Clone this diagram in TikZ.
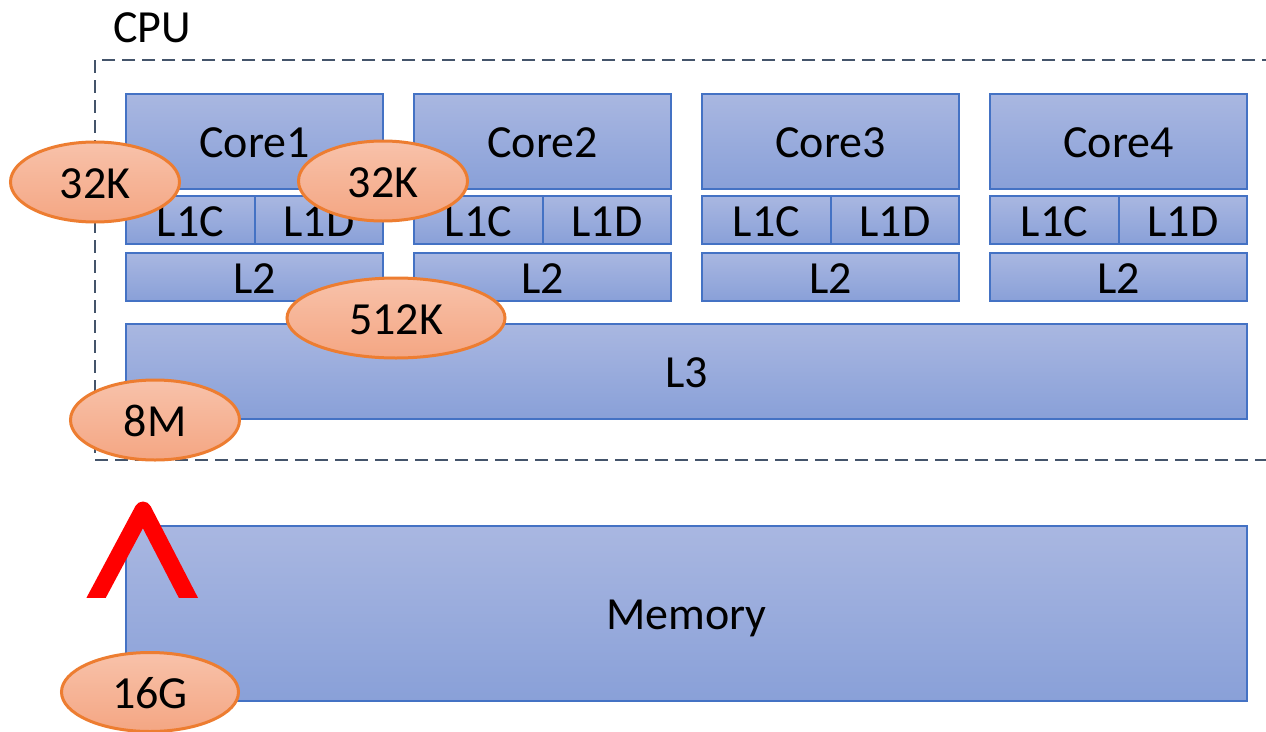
\documentclass[tikz,border=0pt]{standalone}
\usepackage{fontspec}
\setmainfont{Carlito}
\usetikzlibrary{shapes.geometric}
\definecolor{boxtop}{HTML}{A9B7E1}
\definecolor{boxbot}{HTML}{89A0D8}
\definecolor{boxline}{HTML}{4472C4}
\definecolor{elltop}{HTML}{F8C2AA}
\definecolor{ellbot}{HTML}{F4A683}
\definecolor{ellline}{HTML}{ED7D31}
\definecolor{dashcol}{HTML}{44546A}
\tikzset{
  lbl/.style={font=\fontsize{46}{52}\selectfont, text height=32pt, text depth=0pt, inner sep=0pt},
  blk/.style={lbl, draw=boxline, line width=2.5pt, top color=boxtop, bottom color=boxbot, shading=axis},
  sz/.style={lbl, ellipse, draw=ellline, line width=3pt, top color=elltop, bottom color=ellbot, minimum width=169pt, minimum height=80pt},
  cpubox/.style={draw=dashcol, line width=2.5pt, dash pattern=on 13pt off 7pt, inner sep=0pt},
}
\begin{document}
\begin{tikzpicture}[x=1pt,y=-1pt]
\useasboundingbox (0,0) rectangle (1266,731);
\fill[white] (0,0) rectangle (1266,731);
% CPU container
\node[cpubox, minimum width=1180pt, minimum height=400pt] (cpu) at (685,260) {};
\node[lbl, anchor=west] (cputxt) at (113,26) {CPU};
% cores
\foreach \i/\x in {1/126,2/414,3/702,4/990}{
  \node[blk, minimum width=257pt, minimum height=95pt] (core\i) at (\x+128.5,141.5) {Core\i};
  \node[blk, minimum width=129pt, minimum height=48pt] (l1c\i) at (\x+64.5,220) {L1C};
  \node[blk, minimum width=128pt, minimum height=48pt] (l1d\i) at (\x+193,220) {L1D};
  \node[blk, minimum width=257pt, minimum height=48pt] (l2\i) at (\x+128.5,277) {L2};
}
\node[blk, minimum width=1121pt, minimum height=95pt] (l3) at (686.5,371.5) {L3};
\node[blk, minimum width=1121pt, minimum height=175pt] (mem) at (686.5,613.5) {Memory};
% caret
\begin{scope}
\clip (0,480) rectangle (300,597);
\draw[red, line width=17pt, line join=round] (89.6,610) -- (143,510) -- (194.7,610);
\end{scope}
% size tags
\node[sz] (e1) at (95,182) {32K};
\node[sz] (e2) at (383,181) {32K};
\node[sz, minimum width=218pt] (e3) at (396,318) {512K};
\node[sz] (e4) at (155,420) {8M};
\node[sz, minimum width=177pt, minimum height=79pt] (e5) at (150,692) {16G};
\end{tikzpicture}
\end{document}
